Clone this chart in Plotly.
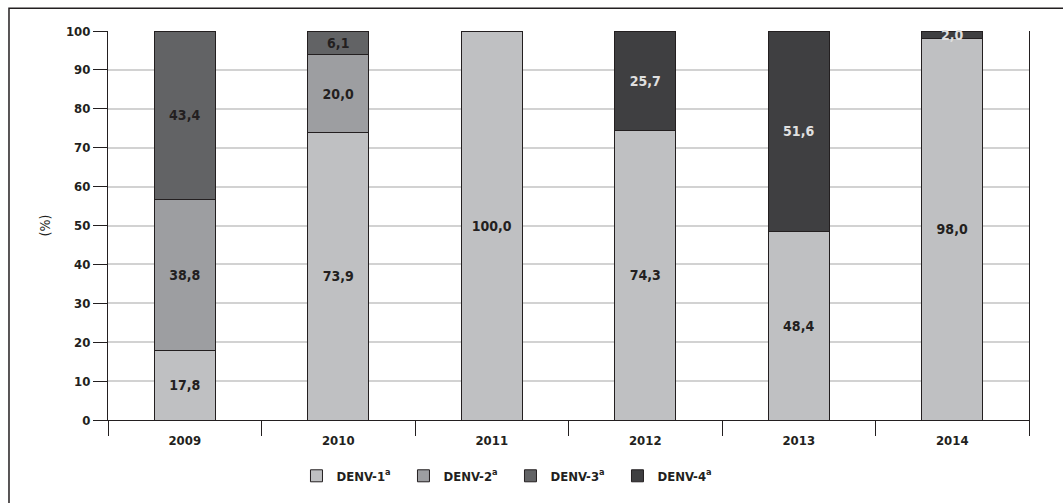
import plotly.graph_objects as go

years = ["2009", "2010", "2011", "2012", "2013", "2014"]
denv1 = [17.8, 73.9, 100.0, 74.3, 48.4, 98.0]
denv2 = [38.8, 20.0, None, None, None, None]
denv3 = [43.4, 6.1, None, None, None, None]
denv4 = [None, None, None, 25.7, 51.6, 2.0]
series_names = ["DENV-1<sup>a</sup>", "DENV-2<sup>a</sup>", "DENV-3<sup>a</sup>", "DENV-4<sup>a</sup>"]
colors = ["#bfc0c2", "#9d9ea1", "#626365", "#3f3f41"]
text_colors = ["#231f20", "#231f20", "#231f20", "#e0e0e0"]
yticks = [0, 10, 20, 30, 40, 50, 60, 70, 80, 90, 100]

FONT = "Liberation Sans Narrow, DejaVu Sans Condensed, Arial Narrow, sans-serif"

def fmt(v):
    return f"{v:.1f}".replace(".", ",")

fig = go.Figure()
for name, vals, col, tcol in zip(series_names, [denv1, denv2, denv3, denv4], colors, text_colors):
    xs = [yr for yr, v in zip(years, vals) if v is not None]
    ys = [v for v in vals if v is not None]
    fig.add_trace(go.Bar(
        x=xs, y=ys, name=name,
        marker=dict(color=col, line=dict(color="#231f20", width=1)),
        text=[fmt(v) for v in ys], textposition="inside",
        insidetextanchor="middle", textangle=0,
        textfont=dict(family=FONT, size=14, color=tcol, weight="bold"),
        width=0.4, cliponaxis=False,
    ))

fig.update_layout(
    barmode="stack",
    width=1063, height=503,
    margin=dict(l=108, r=34, t=31, b=81),
    paper_bgcolor="white", plot_bgcolor="white",
    font=dict(family=FONT, color="#231f20"),
    uniformtext=dict(minsize=14, mode="show"),
    showlegend=True,
    legend=dict(orientation="h", x=0.437, xanchor="center", y=-0.105, yanchor="top",
                font=dict(family=FONT, size=13, weight="bold"), traceorder="normal",
                itemwidth=30, entrywidth=62),
    xaxis=dict(type="category", categoryorder="array", categoryarray=years,
               range=[-0.5, 5.5], tickson="boundaries",
               ticks="outside", ticklen=15, tickcolor="#231f20", tickwidth=1,
               showline=True, linecolor="#231f20", linewidth=1, ticklabelstandoff=8,
               tickfont=dict(family=FONT, size=13, weight="bold"), showgrid=False),
    yaxis=dict(range=[0, 100], tickvals=yticks, ticks="outside", ticklen=14,
               tickcolor="#231f20", showline=True, linecolor="#231f20", linewidth=1,
               mirror=True, showgrid=True, gridcolor="#d2d2d2", gridwidth=1.5,
               zeroline=False,
               tickfont=dict(family=FONT, size=13, weight="bold"),
               title=dict(text="(%)", font=dict(family=FONT, size=14), standoff=12)),
)

fig.add_shape(type="rect", xref="paper", yref="paper",
              x0=-0.1075, y0=-0.3, x1=1.1, y1=1.0588,
              line=dict(color="#231f20", width=1.5), layer="below")

fig.write_html("out.html", config={"displayModeBar": False},
               post_script="document.body.style.margin='0';")
